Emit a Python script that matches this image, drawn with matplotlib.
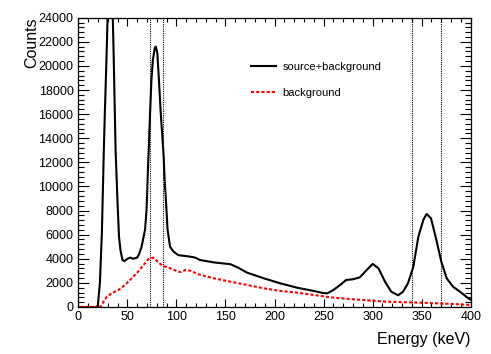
import matplotlib

matplotlib.use("Agg")
import matplotlib.pyplot as plt
from matplotlib.ticker import MultipleLocator

plt.rcParams["font.family"] = ["Liberation Sans", "DejaVu Sans"]

# source+background spectrum (energy in keV, counts)
sb_energy = [0, 19, 20, 22, 24, 26, 27, 28.5, 30, 31, 33, 35, 36, 37, 38, 40,
             41.5, 43, 45, 47, 50, 53, 56, 60, 62, 64.5, 68, 69.5, 70, 71, 72,
             73, 74.5, 76, 78, 79, 80.5, 82, 84, 85.7, 87, 88, 89, 91, 93.5, 97,
             102, 112, 119, 124, 138, 155, 163, 172, 189, 206, 223, 240, 250,
             254, 260, 267, 273, 280, 287, 294, 300, 306, 312.6, 319, 326, 331,
             336, 341.5, 346.6, 351.7, 355, 359.5, 365, 370, 375.5, 382, 389,
             397.6, 400]
sb_counts = [0, 0, 200, 2000, 6100, 13000, 16000, 20000, 24500, 30000, 30000,
             24500, 21000, 17000, 13000, 8600, 5800, 4700, 3900, 3800, 4000,
             4100, 4000, 4100, 4400, 5000, 6400, 8000, 9000, 11500, 13500,
             15800, 18800, 20500, 21500, 21600, 21100, 19100, 16100, 14100,
             12500, 10500, 9300, 6400, 5000, 4600, 4300, 4200, 4100, 3900,
             3700, 3550, 3260, 2850, 2380, 1960, 1600, 1330, 1150, 1140, 1410,
             1830, 2240, 2300, 2460, 3070, 3570, 3210, 2100, 1270, 970, 1270,
             1960, 3340, 5830, 7220, 7720, 7360, 5560, 3760, 2380, 1680, 1270,
             720, 600]

# background-only spectrum
bg_energy = [0, 22, 24, 26, 29, 34, 41, 47.6, 54.4, 61, 68, 71.4, 74, 76.5, 78,
             81.6, 86.7, 93.5, 102, 105, 109, 115, 121, 138, 155, 172, 189, 206,
             223, 240, 257, 280, 314, 348, 382, 399]
bg_counts = [0, 0, 150, 500, 850, 1140, 1410, 1830, 2380, 2930, 3630, 3960,
             4050, 4090, 4000, 3680, 3400, 3210, 2930, 2900, 3070, 3000, 2740,
             2380, 2100, 1830, 1550, 1330, 1190, 1000, 800, 640, 440, 360, 250,
             170]

# integration windows (keV)
window_edges = [73, 86, 340, 370]

fig = plt.figure(figsize=(4.91, 3.54), dpi=100)
ax = fig.add_axes([0.1595, 0.1328, 0.7992, 0.8172])

for e in window_edges:
    ax.axvline(e, color="black", linestyle=(0, (1, 1)), linewidth=0.8)

ax.plot(sb_energy, sb_counts, color="black", linewidth=1.5,
        label="source+background")
ax.plot(bg_energy, bg_counts, color="#ff0000", linewidth=1.5,
        linestyle=(0, (1.5, 1)), label="background")

ax.set_xlim(0, 400)
ax.set_ylim(0, 24000)
ax.xaxis.set_major_locator(MultipleLocator(50))
ax.xaxis.set_minor_locator(MultipleLocator(10))
ax.yaxis.set_major_locator(MultipleLocator(2000))
ax.yaxis.set_minor_locator(MultipleLocator(400))

ax.tick_params(axis="both", which="both", direction="in", top=True, right=True,
               labelsize=9, width=0.8)
ax.tick_params(axis="x", which="major", length=5.8, pad=3)
ax.tick_params(axis="x", which="minor", length=2.9)
ax.tick_params(axis="y", which="major", length=7.9, pad=3.5)
ax.tick_params(axis="y", which="minor", length=4.3)
for s in ax.spines.values():
    s.set_linewidth(0.9)

ax.set_xlabel("Energy (keV)", fontsize=11.5, loc="right")
ax.xaxis.set_label_coords(1.0, -0.085)
ax.set_ylabel("Counts", fontsize=11.5, loc="top")
ax.yaxis.set_label_coords(-0.10, 1.0)

ax.legend(loc="upper left", bbox_to_anchor=(0.44, 0.846), frameon=False,
          fontsize=8, handlelength=2.25, handletextpad=0.6, labelspacing=1.45,
          borderpad=0, borderaxespad=0)

fig.savefig("out.png", dpi=100)
